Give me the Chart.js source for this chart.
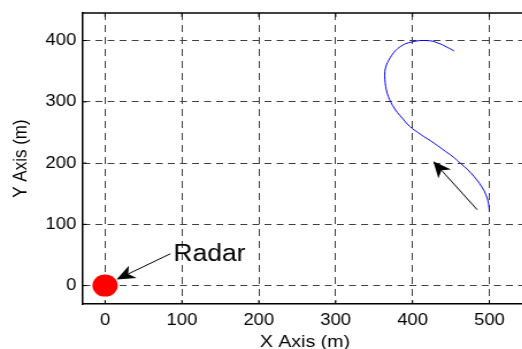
<!DOCTYPE html>
<html>
<head>
<meta charset="utf-8">
<title>Radar track</title>
<script src="https://cdn.jsdelivr.net/npm/chart.js@4.4.1/dist/chart.umd.min.js"></script>
<style>
    html, body { margin: 0; padding: 0; background: #fff; overflow: hidden; }
    #frame {
        width: 522px;
        height: 349px;
        overflow: hidden;
        position: relative;
    }
    #wrap {
        width: 470px;
        height: 349px;
        transform: scaleX(1.15);
        transform-origin: 0 0;
    }
</style>
</head>
<body>
<div id="frame">
    <div id="wrap">
        <canvas id="trackChart" width="470" height="349"></canvas>
    </div>
</div>

<script>

// =====================
// DATA
// =====================

const X_TICKS = [0, 100, 200, 300, 400, 500];
const Y_TICKS = [0, 100, 200, 300, 400];

// target track (x, y in metres)
const TRACK_X = [500, 499, 497, 493, 487, 480, 472, 463, 454, 443, 433, 424, 415, 407, 400, 393, 387, 380, 374, 370,
                 367, 365, 364, 364, 366, 369, 373, 378, 384, 391, 400, 409, 418, 426, 433, 439, 445, 450, 454];
const TRACK_Y = [121, 133, 143, 155, 167, 178, 189, 199, 209, 219, 228, 236, 243, 250, 256, 264, 273, 283, 294, 304,
                 314, 325, 337, 350, 360, 368, 376, 384, 390, 395, 398, 400, 400, 399, 396, 393, 389, 386, 383];

// radar position
const RADAR_X = [0];
const RADAR_Y = [0];

// arrows: [fromX, fromY, toX, toY]
const ARROWS = [
    [484, 124, 427, 203],
    [85, 52, 15, 10]
];

const RADAR_LABEL = { text: 'Radar', x: 89, y: 41 };

const FONT = 'Liberation Sans, Arial, sans-serif';


document.addEventListener("DOMContentLoaded", function () {
    drawTrackChart();
});


// =====================
// OVERLAY: frame, ticks, arrows, label
// =====================

const overlayPlugin = {
    id: 'overlay',
    afterDraw(chart) {
        const ctx = chart.ctx;
        const area = chart.chartArea;
        const xs = chart.scales.x;
        const ys = chart.scales.y;

        ctx.save();

        // top frame line
        ctx.strokeStyle = '#000';
        ctx.lineWidth = 1.5;
        ctx.beginPath();
        ctx.moveTo(area.left, area.top);
        ctx.lineTo(area.right + 5, area.top);
        ctx.stroke();

        // inward tick marks
        ctx.lineWidth = 1;
        const len = 4;
        ctx.beginPath();
        X_TICKS.forEach(v => {
            const px = xs.getPixelForValue(v);
            ctx.moveTo(px, area.bottom);
            ctx.lineTo(px, area.bottom - len);
            ctx.moveTo(px, area.top);
            ctx.lineTo(px, area.top + len);
        });
        Y_TICKS.forEach(v => {
            const py = ys.getPixelForValue(v);
            ctx.moveTo(area.left, py);
            ctx.lineTo(area.left + len, py);
        });
        ctx.stroke();

        // arrows
        ARROWS.forEach(a => {
            const x1 = xs.getPixelForValue(a[0]);
            const y1 = ys.getPixelForValue(a[1]);
            const x2 = xs.getPixelForValue(a[2]);
            const y2 = ys.getPixelForValue(a[3]);
            drawArrow(ctx, x1, y1, x2, y2);
        });

        // label
        ctx.fillStyle = '#000';
        ctx.font = '23px ' + FONT;
        ctx.textAlign = 'left';
        ctx.textBaseline = 'alphabetic';
        ctx.fillText(RADAR_LABEL.text, xs.getPixelForValue(RADAR_LABEL.x), ys.getPixelForValue(RADAR_LABEL.y));

        ctx.restore();
    }
};

function drawArrow(ctx, x1, y1, x2, y2) {

    const dx = x2 - x1;
    const dy = y2 - y1;
    const d = Math.sqrt(dx * dx + dy * dy);
    const ux = dx / d;
    const uy = dy / d;

    const headLen = 16;
    const halfW = 7;
    const notch = 11.5;

    ctx.strokeStyle = '#000';
    ctx.fillStyle = '#000';
    ctx.lineWidth = 1;

    ctx.beginPath();
    ctx.moveTo(x1, y1);
    ctx.lineTo(x2 - ux * notch, y2 - uy * notch);
    ctx.stroke();

    const bx = x2 - ux * headLen;
    const by = y2 - uy * headLen;

    ctx.beginPath();
    ctx.moveTo(x2, y2);
    ctx.lineTo(bx - uy * halfW, by + ux * halfW);
    ctx.lineTo(x2 - ux * notch, y2 - uy * notch);
    ctx.lineTo(bx + uy * halfW, by - ux * halfW);
    ctx.closePath();
    ctx.fill();
}


// =====================
// CHART
// =====================

function drawTrackChart() {

    const track = TRACK_X.map((x, i) => ({ x: x, y: TRACK_Y[i] }));
    const radar = RADAR_X.map((x, i) => ({ x: x, y: RADAR_Y[i] }));

    new Chart(document.getElementById('trackChart'), {
        type: 'scatter',
        data: {
            datasets: [{
                data: track,
                showLine: true,
                borderColor: '#0000ff',
                borderWidth: 1,
                pointRadius: 0,
                tension: 0.3
            }, {
                data: radar,
                pointRadius: 11,
                pointHoverRadius: 11,
                backgroundColor: '#ff0000',
                borderWidth: 0
            }]
        },
        options: {
            responsive: false,
            maintainAspectRatio: false,
            animation: false,
            devicePixelRatio: 1,
            layout: {
                padding: { left: 0, top: 13, right: 9.4, bottom: 0 }
            },
            plugins: {
                legend: { display: false },
                tooltip: { enabled: false }
            },
            scales: {
                x: {
                    type: 'linear',
                    min: -30,
                    max: 550,
                    afterBuildTicks: s => { s.ticks = X_TICKS.map(v => ({ value: v })); },
                    afterFit: s => {
                        s.height = 45;
                        s.paddingLeft = 0;
                        s.paddingRight = 0;
                    },
                    grid: { color: '#404040', lineWidth: 1, drawTicks: false },
                    border: { color: '#000', width: 1.5, dash: [7, 5] },
                    ticks: {
                        color: '#000',
                        padding: 7,
                        maxRotation: 0,
                        font: { family: FONT, size: 16 }
                    },
                    title: {
                        display: true,
                        text: 'X Axis (m)',
                        color: '#000',
                        padding: { top: 0, bottom: -4 },
                        font: { family: FONT, size: 17 }
                    }
                },
                y: {
                    type: 'linear',
                    min: -30,
                    max: 445,
                    afterBuildTicks: s => { s.ticks = Y_TICKS.map(v => ({ value: v })); },
                    afterFit: s => {
                        s.width = 71.3;
                        s.paddingTop = 0;
                        s.paddingBottom = 0;
                    },
                    grid: { color: '#404040', lineWidth: 1, drawTicks: false },
                    border: { color: '#000', width: 1.5, dash: [6, 4.5] },
                    ticks: {
                        color: '#000',
                        padding: 5,
                        font: { family: FONT, size: 16 }
                    },
                    title: {
                        display: true,
                        text: 'Y Axis (m)',
                        color: '#000',
                        padding: { top: 8, bottom: 0 },
                        font: { family: FONT, size: 17 }
                    }
                }
            }
        },
        plugins: [overlayPlugin]
    });

}

</script>
</body>
</html>
